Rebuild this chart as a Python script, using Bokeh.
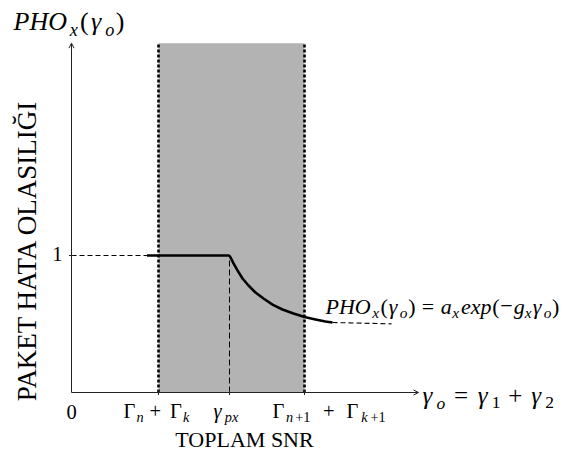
import math
from bokeh.plotting import figure
from bokeh.models import Range1d, Arrow, OpenHead, ColumnDataSource
from bokeh.core.properties import value
from bokeh.embed import file_html
from bokeh.resources import INLINE

# ---- schematic data (abstract SNR units on x, probability on y) ----
tick_x = [0.87, 1.58, 2.33]          # Γn+Γk, γpx, Γn+1+Γk+1
region_x = [0.87, 2.33]              # shaded SNR interval
region_top = 2.55
plateau_y = 1.0
plateau_x = [0.755, 1.58]            # flat part of the error probability
curve_x = [1.58, 1.62, 1.66, 1.71, 1.77, 1.84, 1.92, 2.01, 2.11, 2.22, 2.33, 2.44, 2.54, 2.61]
curve_y = [1.0, 0.942, 0.891, 0.832, 0.781, 0.730, 0.686, 0.642, 0.606, 0.577, 0.551,
           0.533, 0.518, 0.511]
tail_x = [2.61, 3.20]
tail_y = [0.511, 0.501]
x_axis_end = 3.47
y_axis_end = 2.55

# screen <-> data mapping used for the figure ranges and text layout
X0, SX = 71.0, 100.0
Y0, SY = 392.0, 137.0
W, H = 565, 451


def dx(px):
    return (px - X0) / SX


def dy(py):
    return (Y0 - py) / SY


p = figure(width=W, height=H, x_range=Range1d(dx(0), dx(W)), y_range=Range1d(dy(H), dy(0)),
           output_backend="svg", toolbar_location=None,
           min_border_left=0, min_border_right=0, min_border_top=0, min_border_bottom=0)
p.axis.visible = False
p.grid.visible = False
p.outline_line_color = None

# shaded interval and its dashed borders
p.quad(left=[region_x[0]], right=[region_x[1]], bottom=[0], top=[region_top],
       fill_color="#b3b3b3", line_color=None)
p.segment(x0=region_x, y0=[0, 0], x1=region_x, y1=[region_top, region_top],
          line_color="black", line_width=2.6, line_dash="3 2")

# guide lines
p.segment(x0=[tick_x[1]], y0=[0], x1=[tick_x[1]], y1=[plateau_y],
          line_color="black", line_width=1, line_dash="6 3")
p.segment(x0=[0], y0=[plateau_y], x1=[plateau_x[0]], y1=[plateau_y],
          line_color="black", line_width=1, line_dash="5 3")

# error probability curve
p.line(plateau_x, [plateau_y, plateau_y], line_color="black", line_width=2.6)
p.line(curve_x, curve_y, line_color="black", line_width=2.6, line_join="round")
p.line(tail_x, tail_y, line_color="black", line_width=1.1, line_dash="5 3")

# axes with arrow heads and small ticks
axis_color = "#222222"
p.add_layout(Arrow(end=OpenHead(size=5, line_width=1, line_color=axis_color),
                   x_start=0, y_start=0, x_end=x_axis_end, y_end=0,
                   line_width=1, line_color=axis_color))
p.add_layout(Arrow(end=OpenHead(size=5, line_width=1, line_color=axis_color),
                   x_start=0, y_start=0, x_end=0, y_end=y_axis_end,
                   line_width=1, line_color=axis_color))
p.segment(x0=[dx(X0 - 2.5)], y0=[plateau_y], x1=[dx(X0 + 2.5)], y1=[plateau_y],
          line_color=axis_color, line_width=1)
p.segment(x0=tick_x, y0=[dy(Y0 - 2.5)] * 3, x1=tick_x, y1=[dy(Y0 + 2.5)] * 3,
          line_color=axis_color, line_width=1)

# ---- typeset texts: runs of (text, style, advance in em) ----
FONT = "Liberation Serif"
SHIFT = 0.33   # baseline correction, in em, for the text renderer
rows = dict(x=[], y=[], text=[], size=[], style=[])


def typeset(x_px, base_px, size, runs):
    cur = x_px
    for txt, kind, adv in runs:
        sub = kind.startswith("sub")
        fs = size * 0.7 if sub else size
        yb = base_px + (0.2 * size if sub else 0) - SHIFT * fs
        rows["x"].append(dx(cur))
        rows["y"].append(dy(yb))
        rows["text"].append(txt)
        rows["size"].append(f"{fs:.1f}px")
        rows["style"].append("italic" if kind in ("it", "sub") else "normal")
        cur += adv * size


# axis title, curve formula and x-axis variable
typeset(13, 30, 26, [("PHO", "it", 2.16), ("x", "sub", 0.40), ("(", "rm", 0.42),
                     ("γ", "it", 0.55), ("o", "sub", 0.40), (")", "rm", 0.34)])
typeset(325, 313, 22, [("PHO", "it", 2.12), ("x", "sub", 0.38), ("(", "rm", 0.38),
                       ("γ", "it", 0.50), ("o", "sub", 0.38), (")", "rm", 0.62),
                       ("=", "rm", 0.86), ("a", "it", 0.52), ("x", "sub", 0.40),
                       ("exp", "it", 1.42), ("(", "rm", 0.36), ("−", "rm", 0.62),
                       ("g", "it", 0.50), ("x", "sub", 0.36), ("γ", "it", 0.50),
                       ("o", "sub", 0.38), (")", "rm", 0.34)])
typeset(422, 403, 25, [("γ", "it", 0.56), ("o", "sub", 0.70), ("=", "rm", 0.95),
                       ("γ", "it", 0.56), ("1", "subrm", 0.66), ("+", "rm", 0.92),
                       ("γ", "it", 0.56), ("2", "subrm", 0.35)])

# tick labels
typeset(123, 417, 20.5, [("Γ", "rm", 0.63), ("n", "sub", 0.64), ("+", "rm", 1.0),
                         ("Γ", "rm", 0.63), ("k", "sub", 0.37)])
typeset(213, 417, 20.5, [("γ", "it", 0.55), ("px", "sub", 0.85)])
typeset(272, 417, 20.5, [("Γ", "rm", 0.66), ("n", "sub", 0.45), ("+1", "subrm", 1.35),
                         ("+", "rm", 1.15), ("Γ", "rm", 0.72), ("k", "sub", 0.45),
                         ("+1", "subrm", 0.9)])

src = ColumnDataSource(rows)
p.text(x="x", y="y", text="text", source=src, text_font=value(FONT),
       text_font_size="size", text_font_style="style", text_color="black",
       text_align="left", text_baseline="alphabetic")

p.text(x=[0], y=[dy(418 - SHIFT * 20.5)], text=["0"], text_font=value(FONT),
       text_font_size="20.5px", text_align="center", text_baseline="alphabetic",
       text_color="black")
p.text(x=[dx(62)], y=[dy(260 - SHIFT * 20.5)], text=["1"], text_font=value(FONT),
       text_font_size="20.5px", text_align="right", text_baseline="alphabetic",
       text_color="black")
p.text(x=[dx(244)], y=[dy(446 - SHIFT * 22)], text=["TOPLAM SNR"], text_font=value(FONT),
       text_font_size="22px", text_align="center", text_baseline="alphabetic",
       text_color="black")
p.text(x=[dx(35 - SHIFT * 27)], y=[dy(250)], text=["PAKET HATA OLASILIĞI"],
       angle=math.pi / 2, text_font=value(FONT), text_font_size="27px",
       text_align="center", text_baseline="alphabetic", text_color="black")

open("out.html", "w").write(file_html(p, INLINE))
